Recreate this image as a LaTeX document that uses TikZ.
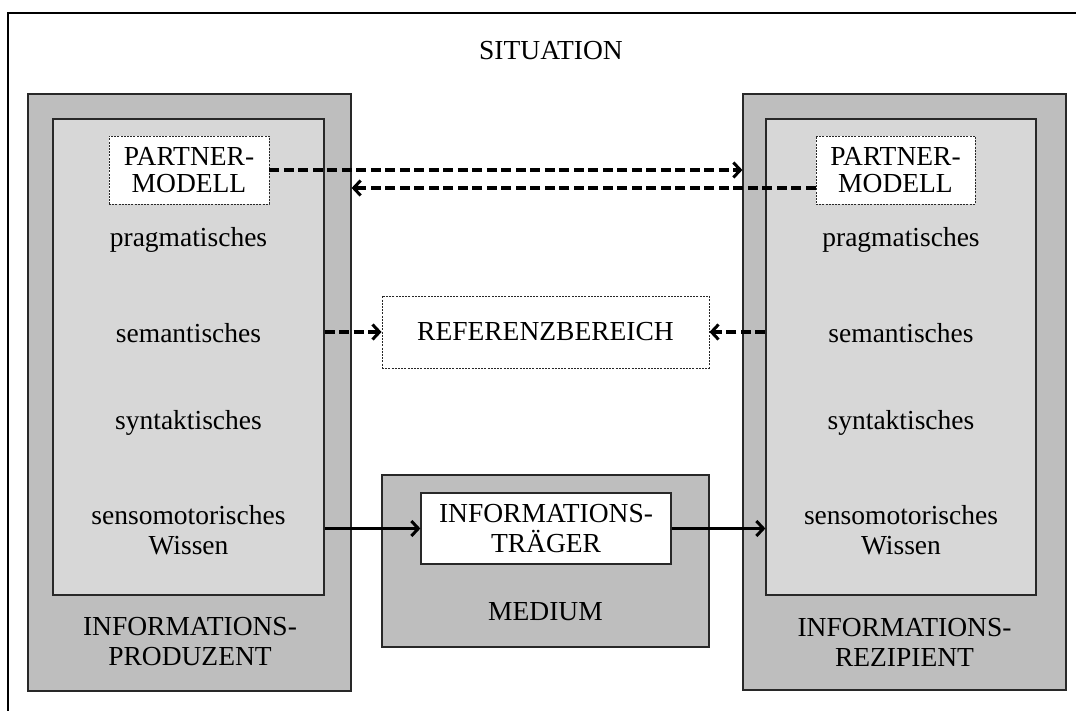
\documentclass[tikz,border=0pt]{standalone}
\usepackage{fontspec}
\setmainfont{Liberation Serif}
\usetikzlibrary{arrows.meta}
\definecolor{shellgray}{RGB}{190,190,190}
\definecolor{coregray}{RGB}{215,215,215}
\definecolor{edgegray}{RGB}{40,40,40}
\begin{document}
\begin{tikzpicture}[x=1pt,y=-1pt,
  every node/.style={font=\fontsize{27.5}{30}\selectfont, align=center},
  panel/.style={draw=edgegray, line width=1.2pt, inner sep=0pt},
  shell/.style={panel, fill=shellgray},
  core/.style={panel, fill=coregray},
  dotbox/.style={draw=edgegray, line width=0.9pt, dash pattern=on 2pt off 1.2pt, fill=white, inner sep=0pt},
  plainbox/.style={panel, fill=white},
  lbl/.style={inner sep=0pt},
  dashlink/.style={line width=3.4pt, dash pattern=on 10pt off 4.5pt, -{Straight Barb[length=7pt,width=15pt,line width=3pt]}},
  solidlink/.style={line width=3.2pt, -{Straight Barb[length=7pt,width=15pt,line width=3pt]}}]
\useasboundingbox (0,0) rectangle (1076,711);
\fill[white] (0,0) rectangle (1076,711);
% outer frame of the situation (open towards right and bottom)
\draw[line width=1.5pt] (8,711) -- (8,13) -- (1076,13);
\node[lbl] (sit) at (551,51) {SITUATION};

% producer
\node[shell, minimum width=323pt, minimum height=597pt] (prodShell) at (189.5,392.5) {};
\node[core, minimum width=271pt, minimum height=476pt] (prodCore) at (188.5,357) {};
\node[dotbox, minimum width=160pt, minimum height=68pt] (prodPM) at (189,170) {};
\node[lbl, font=\fontsize{27.5}{27.5}\selectfont] (prodPMt) at (prodPM) {PARTNER-\\MODELL};
\node[lbl] (prodPrag) at (188.5,240) {pragmatisches};
\node[lbl] (prodSem) at (188.5,333) {semantisches};
\node[lbl] (prodSyn) at (188.5,423) {syntaktisches};
\node[lbl] (prodSens) at (188.5,530) {sensomotorisches\\Wissen};
\node[lbl] (prodName) at (190,642) {INFORMATIONS-\\PRODUZENT};

% recipient
\node[shell, minimum width=323pt, minimum height=596pt] (recShell) at (904.5,392) {};
\node[core, minimum width=270pt, minimum height=476pt] (recCore) at (901,357) {};
\node[dotbox, minimum width=159pt, minimum height=68pt] (recPM) at (895.5,170) {};
\node[lbl, font=\fontsize{27.5}{27.5}\selectfont] (recPMt) at (recPM) {PARTNER-\\MODELL};
\node[lbl] (recPrag) at (901,240) {pragmatisches};
\node[lbl] (recSem) at (901,333) {semantisches};
\node[lbl] (recSyn) at (901,423) {syntaktisches};
\node[lbl] (recSens) at (901,530) {sensomotorisches\\Wissen};
\node[lbl] (recName) at (904.5,642) {INFORMATIONS-\\REZIPIENT};

% reference domain
\node[dotbox, minimum width=327pt, minimum height=72pt] (ref) at (545.5,332) {};
\node[lbl] (reft) at (ref) {REFERENZBEREICH};

% medium with information carrier
\node[shell, minimum width=327pt, minimum height=172pt] (med) at (545.5,561) {};
\node[lbl] (medt) at (545.5,612) {MEDIUM};
\node[plainbox, minimum width=250pt, minimum height=71pt] (carrier) at (546,528.5) {};
\node[lbl] (carriert) at (carrier) {INFORMATIONS-\\TRÄGER};

% partner-model links
\draw[dashlink] (prodPM.east) -- (prodPM.east -| recShell.west);
\draw[dashlink] ([yshift=-18pt]recPM.west) -- ([yshift=-18pt]recPM.west -| prodShell.east);
% links to the reference domain
\draw[dashlink] (prodCore.east |- ref.west) -- (ref.west);
\draw[dashlink] (recCore.west |- ref.east) -- (ref.east);
% transmission through the medium
\draw[solidlink] (prodCore.east |- carrier.west) -- (carrier.west);
\draw[solidlink] (carrier.east) -- (recCore.west |- carrier.east);
\end{tikzpicture}
\end{document}
